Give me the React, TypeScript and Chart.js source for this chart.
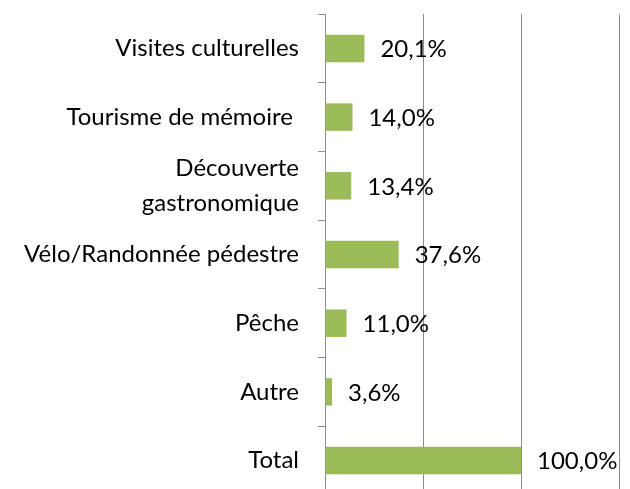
import React, { useEffect, useRef } from "react";
import { Chart, registerables } from "chart.js";

Chart.register(...registerables);

const categories: (string | string[])[] = [
  "Visites culturelles",
  "Tourisme de mémoire ",
  ["Découverte", "gastronomique"],
  "Vélo/Randonnée pédestre",
  "Pêche",
  "Autre",
  "Total",
];
const values: number[] = [20.1, 14.0, 13.4, 37.6, 11.0, 3.6, 100.0];
const valueLabels: string[] = ["20,1%", "14,0%", "13,4%", "37,6%", "11,0%", "3,6%", "100,0%"];

const FONT = "Lato, 'Open Sans', sans-serif";
const GREY = "#8c8c8c";

const labelPlugin = {
  id: "valueLabels",
  afterDatasetsDraw(chart: any) {
    const ctx = chart.ctx;
    const meta = chart.getDatasetMeta(0);
    ctx.save();
    ctx.font = `24px ${FONT}`;
    ctx.fillStyle = "#000";
    ctx.textAlign = "left";
    ctx.textBaseline = "middle";
    meta.data.forEach((bar: any, i: number) => {
      ctx.fillText(valueLabels[i], bar.x + 16, bar.y + 1);
    });
    ctx.restore();
  },
};

export default function App() {
  const ref = useRef<HTMLCanvasElement | null>(null);
  useEffect(() => {
    if (!ref.current) return;
    const chart = new Chart(ref.current, {
      type: "bar",
      data: {
        labels: categories,
        datasets: [
          {
            data: values,
            backgroundColor: "#9BBB59",
            barPercentage: 0.4,
            categoryPercentage: 1,
          },
        ],
      },
      options: {
        indexAxis: "y",
        animation: false,
        responsive: false,
        maintainAspectRatio: false,
        layout: { padding: { top: 0, right: 11, bottom: 0, left: 0 } },
        plugins: { legend: { display: false }, tooltip: { enabled: false } },
        scales: {
          x: {
            min: 0,
            max: 150,
            ticks: { display: false, stepSize: 50 },
            grid: { color: GREY, drawTicks: false, lineWidth: 1 },
            border: { display: false },
            afterFit(scale: any) {
              scale.height = 0;
            },
          },
          y: {
            offset: true,
            ticks: {
              color: "#000",
              autoSkip: false,
              font: { family: FONT, size: 24, lineHeight: 1.42 },
              padding: 19,
            },
            grid: { drawOnChartArea: false, tickLength: 7, color: GREY, offset: true },
            border: { display: true, color: GREY, width: 1 },
            afterFit(scale: any) {
              scale.width = 325;
            },
          },
        },
      },
      plugins: [labelPlugin],
    });
    return () => chart.destroy();
  }, []);
  return (
    <div style={{ position: "fixed", left: 0, top: -22, width: 630, height: 553, background: "#fff" }}>
      <canvas ref={ref} width={630} height={553} style={{ display: "block" }} />
    </div>
  );
}
